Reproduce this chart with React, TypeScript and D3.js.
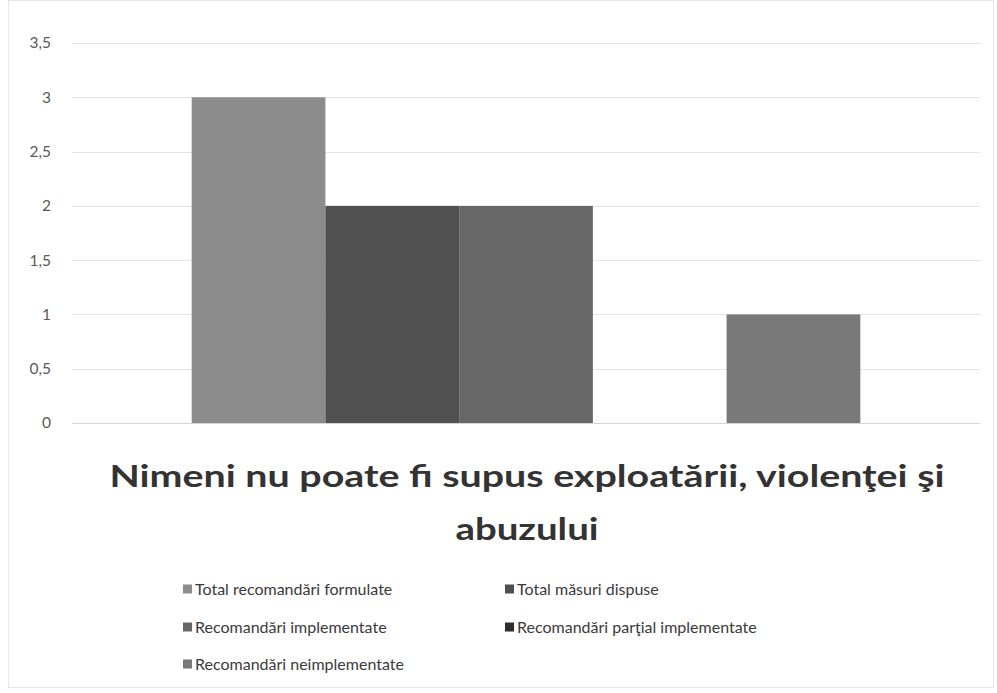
import React, { useRef, useEffect } from 'react';
import * as d3 from 'd3';

const categories = ['Nimeni nu poate fi supus exploatării, violenţei şi abuzului'];
const seriesNames = [
  'Total recomandări formulate',
  'Total măsuri dispuse',
  'Recomandări implementate',
  'Recomandări parţial implementate',
  'Recomandări neimplementate',
];
const seriesValues = [3, 2, 2, 0, 1];
const seriesColors = ['#8c8c8c', '#505050', '#676767', '#2e2e2e', '#797979'];
const yTicks = [0, 0.5, 1, 1.5, 2, 2.5, 3, 3.5];
const titleLines = ['Nimeni nu poate fi supus exploatării, violenţei şi', 'abuzului'];

const W = 997;
const H = 693;

const App = () => {
  const svgRef = useRef<SVGSVGElement>(null);

  useEffect(() => {
    const svg = d3.select(svgRef.current).attr('width', W).attr('height', H).html('');
    const font = 'Lato, Open Sans, sans-serif';

    // --- chart frame ---
    svg.append('rect')
      .attr('x', 8.5).attr('y', 0.5).attr('width', W - 12).attr('height', H - 6)
      .attr('fill', '#fff').attr('stroke', '#e8e8e8');

    // --- scales ---
    const left = 72, right = 980;
    const y = d3.scaleLinear().domain([0, 3.5]).range([423, 43]);
    const x0 = d3.scaleBand().domain(categories).range([left, right]).paddingInner(0).paddingOuter(0.179);
    const x1 = d3.scaleBand().domain(seriesNames).range([0, x0.bandwidth()]).padding(0);

    // --- grid ---
    svg.append('g').selectAll('line').data(yTicks).enter().append('line')
      .attr('x1', left).attr('x2', right)
      .attr('y1', d => Math.round(y(d)) + 0.5).attr('y2', d => Math.round(y(d)) + 0.5)
      .attr('stroke', d => (d === 0 ? '#d4d4d4' : '#e4e4e4'));

    svg.append('g').selectAll('text').data(yTicks).enter().append('text')
      .attr('x', 51).attr('y', d => y(d)).attr('dy', '0.35em')
      .attr('text-anchor', 'end')
      .attr('font-family', font).attr('font-size', 15.5).attr('fill', '#595959')
      .text(d => d3.format('')(d).replace('.', ','));

    // --- bars ---
    const g = svg.append('g').attr('transform', `translate(${x0(categories[0])},0)`);
    g.selectAll('rect').data(seriesNames).enter().append('rect')
      .attr('x', d => x1(d)!)
      .attr('y', (d, i) => y(seriesValues[i]))
      .attr('width', x1.bandwidth())
      .attr('height', (d, i) => y(0) - y(seriesValues[i]))
      .attr('fill', (d, i) => seriesColors[i]);

    // --- title ---
    const titleWidths = [835, 143];
    svg.append('g').selectAll('text').data(titleLines).enter().append('text')
      .attr('x', 527).attr('y', (d, i) => 487 + i * 53)
      .attr('text-anchor', 'middle')
      .attr('font-family', font).attr('font-weight', 'bold').attr('font-size', 30)
      .attr('fill', '#333333')
      .attr('textLength', (d, i) => titleWidths[i]).attr('lengthAdjust', 'spacingAndGlyphs')
      .text(d => d);

    // --- legend ---
    const legendPos = [
      [183, 589], [505, 589], [183, 627], [505, 627], [183, 664],
    ];
    const lg = svg.append('g').selectAll('g').data(seriesNames).enter().append('g')
      .attr('transform', (d, i) => `translate(${legendPos[i][0]},${legendPos[i][1]})`);
    lg.append('rect').attr('x', 0).attr('y', -4.5).attr('width', 9).attr('height', 9)
      .attr('fill', (d, i) => seriesColors[i]);
    lg.append('text').attr('x', 12).attr('y', 0).attr('dy', '0.35em')
      .attr('font-family', font).attr('font-size', 16).attr('fill', '#3a3a3a')
      .text(d => d);
  }, []);

  return (
    <svg ref={svgRef} style={{ position: 'absolute', left: 0, top: 0, display: 'block' }}></svg>
  );
};

export default App;
